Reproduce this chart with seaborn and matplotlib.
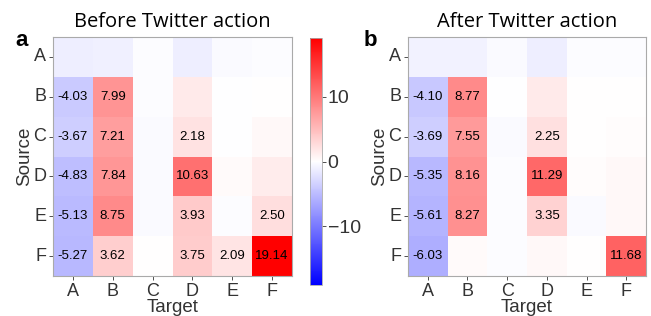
import numpy as np
import pandas as pd
import matplotlib
matplotlib.use("Agg")
import matplotlib.pyplot as plt
import seaborn as sns

# Data
# ==============================================================================
labels = ["A", "B", "C", "D", "E", "F"]

before_vals = [
    [-1.2, -1.1, -0.2, -1.3, -0.3, -0.2],
    [-4.03, 7.99, -0.2, 1.5, -0.1, 0.1],
    [-3.67, 7.21, -0.3, 2.18, -0.1, 0.5],
    [-4.83, 7.84, -0.3, 10.63, 0.3, 1.4],
    [-5.13, 8.75, -0.4, 3.93, -0.2, 2.50],
    [-5.27, 3.62, 0.1, 3.75, 2.09, 19.14],
]

after_vals = [
    [-1.0, -1.0, -0.3, -1.3, -0.2, -0.2],
    [-4.10, 8.77, -0.1, 1.6, 0.0, 0.1],
    [-3.69, 7.55, -0.3, 2.25, 0.0, 0.2],
    [-5.35, 8.16, -0.2, 11.29, 0.2, 0.5],
    [-5.61, 8.27, -0.2, 3.35, -0.4, 0.5],
    [-6.03, 0.3, -0.2, 0.5, 0.0, 11.68],
]

titles = ["Before Twitter action", "After Twitter action"]
panel_tags = ["a", "b"]
vlim = 19.14
tick_col = "#333333"


def annot_strings(vals):
    arr = np.array(vals)
    return np.where(np.abs(arr) >= 2, np.char.mod("%.2f", arr), "")


fig = plt.figure(figsize=(6.51, 3.16), dpi=100)
W, H = 651, 316

def fig_rect(x0, y0, x1, y1):
    return [x0 / W, 1 - y1 / H, (x1 - x0) / W, (y1 - y0) / H]

ax_left = fig.add_axes(fig_rect(53, 37, 292, 276))
ax_right = fig.add_axes(fig_rect(408, 37, 646, 276))
cax = fig.add_axes(fig_rect(310, 38, 322, 285))

for i, (ax, vals) in enumerate(zip([ax_left, ax_right], [before_vals, after_vals])):
    df = pd.DataFrame(vals, index=labels, columns=labels)
    sns.heatmap(
        df,
        cmap="bwr",
        vmin=-vlim,
        vmax=vlim,
        annot=annot_strings(vals),
        fmt="",
        annot_kws={"size": 9.5, "color": "black", "family": "Liberation Sans"},
        cbar=(i == 0),
        cbar_ax=cax if i == 0 else None,
        ax=ax,
    )
    ax.set_xlabel("Target", fontsize=13.5, family="Liberation Sans", color=tick_col, labelpad=-1)
    ax.set_ylabel("Source", fontsize=13.5, family="Liberation Sans", color=tick_col, labelpad=0)
    ax.tick_params(labelsize=13, colors=tick_col, length=3, width=0.6, pad=2)
    for t in ax.get_xticklabels() + ax.get_yticklabels():
        t.set_family("Liberation Sans")
    ax.set_yticklabels(labels, rotation=0)
    for s in ax.spines.values():
        s.set_visible(True)
        s.set_color("#aaaaaa")
        s.set_linewidth(0.8)
    ax.set_title(titles[i], fontsize=14.5, family="Open Sans", pad=7)

cb = ax_left.collections[0].colorbar
cb.set_ticks([-10, 0, 10])
cb.ax.tick_params(labelsize=14, colors=tick_col, length=3, width=0.6, pad=1)
for t in cb.ax.get_yticklabels():
    t.set_family("Liberation Sans")
cb.outline.set_edgecolor("#aaaaaa")
cb.outline.set_linewidth(0.6)

fig.text(15 / W, 1 - 40 / H, panel_tags[0], fontsize=16, fontweight="bold", va="center", family="Liberation Sans")
fig.text(364 / W, 1 - 41 / H, panel_tags[1], fontsize=16, fontweight="bold", va="center", family="Liberation Sans")

plt.savefig("out.png", dpi=100)
